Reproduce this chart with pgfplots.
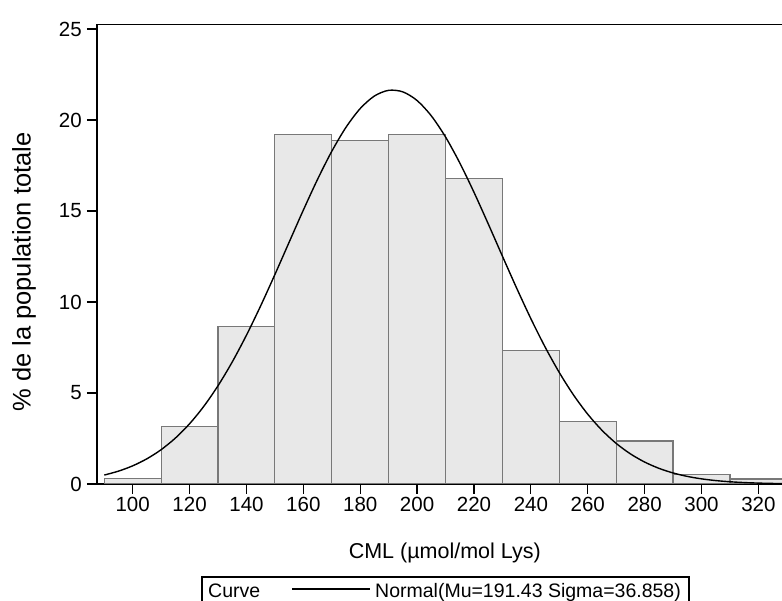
\documentclass[border=0pt]{standalone}
\usepackage{fontspec}
\setmainfont{Liberation Sans}
\usepackage{pgfplots}
\pgfplotsset{compat=1.18}
\definecolor{barfill}{RGB}{232,232,232}
\definecolor{bardraw}{RGB}{120,120,120}
\begin{document}
\begin{tikzpicture}[x=1pt,y=1pt]
\useasboundingbox (0,0) rectangle (782,601);
\begin{axis}[
  at={(97pt,117pt)}, anchor=south west,
  scale only axis, width=695.5pt, height=459.7pt,
  xmin=87.45, xmax=332, ymin=0, ymax=25.26,
  xtick={100,120,...,320}, ytick={0,5,...,25},
  tick align=outside, tick pos=left, major tick length=10pt,
  axis line style={line width=1.2pt},
  every tick/.style={black, line width=1.2pt},
  /pgf/number format/assume math mode=true,
  tick label style={font=\fontsize{20.5}{24}\selectfont},
  xticklabel style={inner sep=3pt},
  yticklabel style={inner sep=5pt},
  xlabel={CML (µmol/mol Lys)},
  ylabel={\% de la population totale},
  every axis x label/.style={at={(axis description cs:0.5,-0.149)}, anchor=center, inner sep=0pt, font=\fontsize{21.5}{26}\selectfont},
  every axis y label/.style={at={(axis description cs:-0.105,0.461)}, rotate=90, anchor=center, inner sep=0pt, font=\fontsize{25.5}{30}\selectfont},
]
\addplot[ybar interval, fill=barfill, draw=bardraw, line width=1.2pt] coordinates {
(90,0.30) (110,3.16) (130,8.66) (150,19.19) (170,18.88) (190,19.19) (210,16.78)
(230,7.35) (250,3.42) (270,2.36) (290,0.51) (310,0.27) (330,0.27)};
\addplot[black, line width=1.4pt, smooth] coordinates {
(90,0.4907) (95,0.7064) (100,0.9981) (105,1.3848) (110,1.8859) (115,2.5215)
(120,3.3099) (125,4.2658) (130,5.3977) (135,6.7048) (140,8.1774) (145,9.7910)
(150,11.5093) (155,13.2828) (160,15.0490) (165,16.7397) (170,18.2807) (175,19.600)
(180,20.631) (185,21.320) (190,21.631) (195,21.546) (200,21.070) (205,20.229)
(210,19.067) (215,17.644) (220,16.030) (225,14.298) (230,12.520) (235,10.764)
(240,9.085) (245,7.529) (250,6.125) (255,4.892) (260,3.835) (265,2.953)
(270,2.2316) (275,1.6558) (280,1.2064) (285,0.8629) (290,0.6057) (295,0.4175)
(300,0.2827) (305,0.1878) (310,0.1225) (315,0.0785) (320,0.0494) (325,0.0305)
(330,0.0185)};
\end{axis}
\draw[line width=1.2pt] (202,-5) rectangle (689,24);
\node[anchor=base west, inner sep=0pt, font=\fontsize{19.5}{24}\selectfont] at (208,3) {Curve};
\draw[line width=1.2pt] (292,12) -- (370,12);
\node[anchor=base west, inner sep=0pt, font=\fontsize{19.5}{24}\selectfont] at (375,3) {Normal(Mu=191.43 Sigma=36.858)};
\end{tikzpicture}
\end{document}
